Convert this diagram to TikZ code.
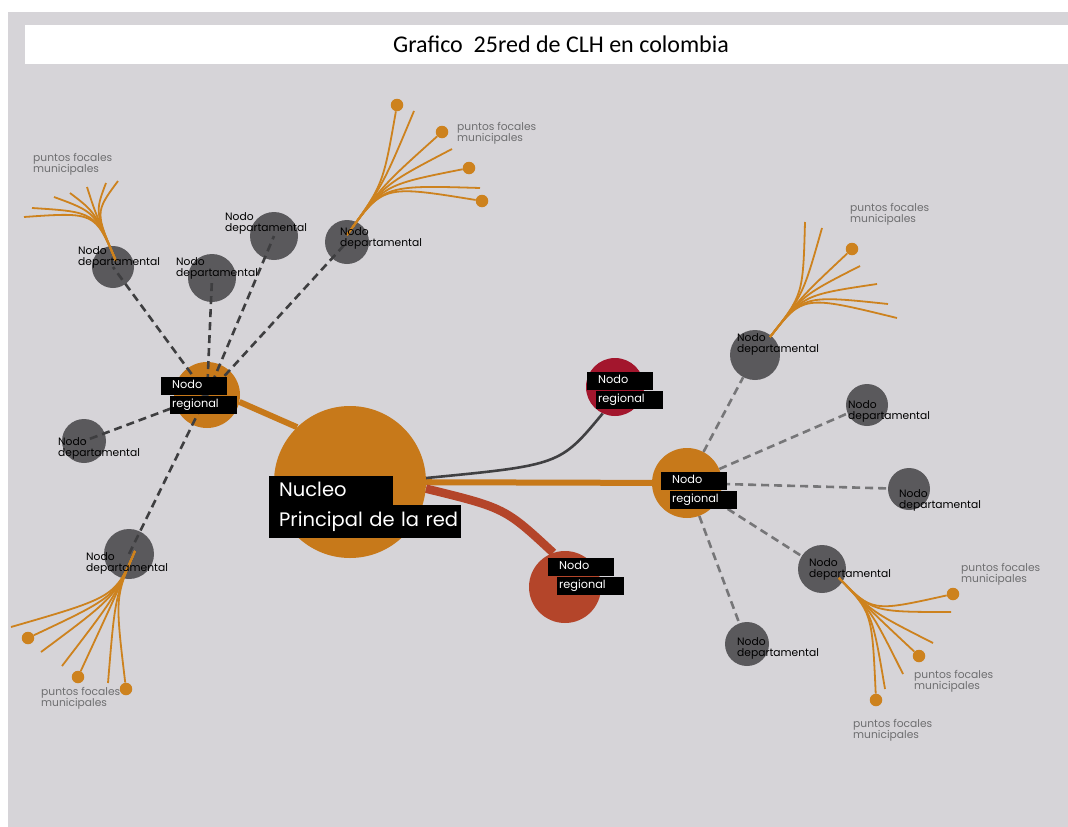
\documentclass[tikz,border=0pt]{standalone}
\usepackage{fontspec}
\setmainfont{Poppins}
\newfontfamily\titlefont{Carlito}
\usetikzlibrary{backgrounds}

\definecolor{bgray}{HTML}{D6D4D8}
\definecolor{corange}{HTML}{C7791A}
\definecolor{fanorange}{HTML}{CD821E}
\definecolor{deptgray}{HTML}{5A595C}
\definecolor{crimson}{HTML}{A3162D}
\definecolor{rust}{HTML}{B4452A}
\definecolor{darkline}{HTML}{404042}
\definecolor{dashgray}{HTML}{3E3E40}
\definecolor{lightdash}{HTML}{767678}
\definecolor{focaltext}{HTML}{6E6E70}

\tikzset{
  hub/.style={circle, fill=corange, inner sep=0pt, minimum size=#1},
  dept/.style={circle, fill=deptgray, inner sep=0pt, minimum size=#1},
  dot/.style={circle, fill=fanorange, inner sep=0pt, minimum size=12.5pt},
  fan/.style={draw=fanorange, line width=1.8pt},
  leftdash/.style={draw=dashgray, line width=2.6pt, dash pattern=on 8pt off 5pt},
  rightdash/.style={draw=lightdash, line width=2.6pt, dash pattern=on 8pt off 5pt},
  deptlbl/.style={font=\fontsize{10.7}{11.5}\selectfont, align=left, anchor=north west, inner sep=0pt, text=black},
  focal/.style={font=\fontsize{10.7}{11.5}\selectfont, align=left, anchor=north west, inner sep=0pt, text=focaltext},
  tagbox/.style={fill=black, text=white, font=\fontsize{11.3}{12}\selectfont, anchor=north west,
    align=left, inner ysep=0pt, text height=8pt, text depth=2.5pt, minimum height=18pt},
  bigtag/.style={fill=black, text=white, font=\fontsize{19.5}{22}\selectfont, anchor=north west,
    align=left, inner ysep=0pt, inner xsep=10pt, text height=14pt, text depth=4pt},
}

% two staggered black tags reading "Nodo / regional"
\newcommand\regtag[3]{%
  \node[tagbox, inner xsep=11pt, text width=44pt] (#1a) at (#2,#3) {Nodo};
  \node[tagbox, inner xsep=2pt, text width=63pt] (#1b) at ([xshift=9pt]#1a.south west) {regional};}

\begin{document}
\begin{tikzpicture}[x=1pt,y=-1pt]
\useasboundingbox (0,0) rectangle (1068,827);
\begin{scope}[on background layer]
  \fill[bgray] (8,12) rectangle (1068,827);
\end{scope}

% title bar
\node[fill=white, inner sep=0pt, minimum width=1043pt, minimum height=39pt, anchor=north west] (titlebar) at (25,25) {};
\node[font=\titlefont\fontsize{24}{28}\selectfont, inner sep=0pt] (title) at (561,44) {Grafico\ \ 25red de CLH en colombia};

% hubs
\node[hub=152pt] (core) at (350,482) {};
\node[hub=66pt] (westhub) at (207,395) {};
\node[hub=70pt] (easthub) at (687,483) {};
\node[circle, fill=crimson, inner sep=0pt, minimum size=58pt] (northhub) at (615,387) {};
\node[circle, fill=rust, inner sep=0pt, minimum size=72pt] (southhub) at (565,587) {};

% departmental nodes, west side
\node[dept=42pt] (w1) at (113,267) {};
\node[dept=48pt] (w2) at (212,278) {};
\node[dept=48pt] (w3) at (274,236) {};
\node[dept=44pt] (w4) at (347,242) {};
\node[dept=44pt] (w5) at (84,441) {};
\node[dept=50pt] (w6) at (129,554) {};
% departmental nodes, east side
\node[dept=50pt] (e1) at (755,355) {};
\node[dept=42pt] (e2) at (867,405) {};
\node[dept=42pt] (e3) at (909,489) {};
\node[dept=48pt] (e4) at (822,569) {};
\node[dept=44pt] (e5) at (747,644) {};

% links behind the circles
\begin{scope}[on background layer]
  \draw[corange, line width=6pt] (westhub.-12) -- (core.134);
  \draw[corange, line width=6pt] (core) -- (easthub);
  \draw[darkline, line width=2.6pt] (core.3) .. controls (560,465) .. (northhub.-115);
  \draw[rust, line width=8.5pt] (core.-5) .. controls (505,508) .. (southhub.109);
  \foreach \n in {e1,e2,e3,e4,e5} \draw[rightdash] (easthub) -- (\n);
\end{scope}

% west links over the circles
\foreach \n in {w1,w2,w3,w4,w5,w6} \draw[leftdash] (westhub.center) -- (\n.center);

% fan A (w1)
\coordinate (fanA) at (116,261);
\foreach \i/\x/\y in {1/24/217,2/32/208,3/54/197,4/70/193,5/87/187,6/106/183,7/118/181}{
  \coordinate (fanA\i) at (\x,\y);
  \draw[fan] (fanA) .. controls (95,212) .. (fanA\i);}

% fan B (w4)
\coordinate (fanB) at (347,235);
\foreach \i/\x/\y in {2/414/111,4/452/149,6/480/188}{
  \coordinate (fanB\i) at (\x,\y);
  \draw[fan] (fanB) .. controls (383,185) .. (fanB\i);}
\foreach \i/\x/\y in {1/397/105,3/442/132,5/469/168,7/482/201}{
  \node[dot] (fanB\i) at (\x,\y) {};
  \draw[fan] (fanB) .. controls (383,185) .. (fanB\i);}

% fan C (e1)
\coordinate (fanC) at (770,337);
\foreach \i/\x/\y in {1/805/222,2/822/228,4/860/266,5/877/284,6/888/304,7/897/318}{
  \coordinate (fanC\i) at (\x,\y);
  \draw[fan] (fanC) .. controls (803,295) .. (fanC\i);}
\foreach \i/\x/\y in {3/852/249}{
  \node[dot] (fanC\i) at (\x,\y) {};
  \draw[fan] (fanC) .. controls (803,295) .. (fanC\i);}

% fan D (e4)
\coordinate (fanD) at (839,578);
\foreach \i/\x/\y in {2/951/612,3/933/643,5/903/674,6/885/689}{
  \coordinate (fanD\i) at (\x,\y);
  \draw[fan] (fanD) .. controls (872,612) .. (fanD\i);}
\foreach \i/\x/\y in {1/953/594,4/919/656,7/876/700}{
  \node[dot] (fanD\i) at (\x,\y) {};
  \draw[fan] (fanD) .. controls (872,612) .. (fanD\i);}

% fan E (w6)
\coordinate (fanE) at (135,551);
\foreach \i/\x/\y in {1/11/627,3/41/652,4/62/666,6/108/683}{
  \coordinate (fanE\i) at (\x,\y);
  \draw[fan] (fanE) .. controls (115,597) .. (fanE\i);}
\foreach \i/\x/\y in {2/28/638,5/78/677,7/126/689}{
  \node[dot] (fanE\i) at (\x,\y) {};
  \draw[fan] (fanE) .. controls (115,597) .. (fanE\i);}

% departmental labels
\node[deptlbl] (w1t) at (78,246) {Nodo\\departamental};
\node[deptlbl] (w2t) at (176,257) {Nodo\\departamental};
\node[deptlbl] (w3t) at (225,212) {Nodo\\departamental};
\node[deptlbl] (w4t) at (340,227) {Nodo\\departamental};
\node[deptlbl] (w5t) at (58,437) {Nodo\\departamental};
\node[deptlbl] (w6t) at (86,552) {Nodo\\departamental};
\node[deptlbl] (e1t) at (737,333) {Nodo\\departamental};
\node[deptlbl] (e2t) at (848,400) {Nodo\\departamental};
\node[deptlbl] (e3t) at (899,489) {Nodo\\departamental};
\node[deptlbl] (e4t) at (809,558) {Nodo\\departamental};
\node[deptlbl] (e5t) at (737,637) {Nodo\\departamental};

% focal point labels
\node[focal] (fAt) at (33,153) {puntos focales\\municipales};
\node[focal] (fBt) at (457,122) {puntos focales\\municipales};
\node[focal] (fCt) at (850,203) {puntos focales\\municipales};
\node[focal] (fD1t) at (961,563) {puntos focales\\municipales};
\node[focal] (fD2t) at (914,670) {puntos focales\\municipales};
\node[focal] (fD3t) at (853,719) {puntos focales\\municipales};
\node[focal] (fEt) at (41,687) {puntos focales\\municipales};

% regional tags
\regtag{westtag}{161}{377}
\regtag{easttag}{661}{472}
\regtag{northtag}{587}{372}
\regtag{southtag}{548}{558}

% core tag
\node[bigtag, text width=104pt, minimum height=30pt] (coretagA) at (269,476) {Nucleo};
\node[bigtag, text width=172pt, minimum height=33pt] (coretagB) at (269,505) {\mbox{Principal de la red}};
\end{tikzpicture}
\end{document}
